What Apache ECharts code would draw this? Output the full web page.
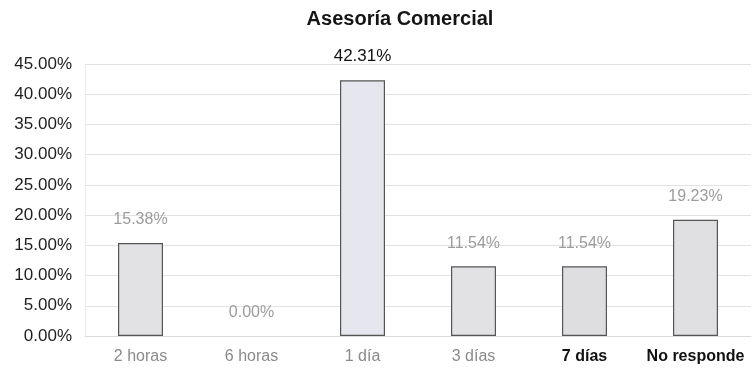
<!DOCTYPE html>
<html>
<head>
<meta charset="utf-8">
<script src="https://cdn.jsdelivr.net/npm/echarts@6/dist/echarts.min.js"></script>
<style>
  html, body { margin: 0; padding: 0; background: #fff; }
  #chart { width: 754px; height: 371px; }
</style>
</head>
<body>
<div id="chart"></div>
<script>
// Tiempo de respuesta de la asesoría comercial (porcentaje de respuestas)
const categories = ['2 horas', '6 horas', '1 día', '3 días', '7 días', 'No responde'];
const percentages = [15.38, 0.00, 42.31, 11.54, 11.54, 19.23];
const yTicks = [0, 5, 10, 15, 20, 25, 30, 35, 40, 45];

// Some category and value labels are printed darker/bolder than others
const darkCategory = [false, false, false, false, true, true];
const darkValue = [false, false, true, false, false, false];
const barFills = ['#e2e2e4', '#e2e2e4', '#e6e6ee', '#e2e2e4', '#dedee0', '#e0e0e2'];

const ARIAL = '"Liberation Sans", Arial, sans-serif';

const chart = echarts.init(document.getElementById('chart'));

chart.setOption({
  animation: false,
  backgroundColor: '#ffffff',
  title: {
    text: 'Asesoría Comercial',
    left: 395,
    textAlign: 'center',
    top: 4,
    textStyle: {
      fontFamily: ARIAL,
      fontSize: 20,
      fontWeight: 'bold',
      color: '#151515'
    }
  },
  grid: { left: 85, right: 3, top: 64, bottom: 35, containLabel: false },
  xAxis: {
    type: 'category',
    data: categories.map((c, i) => ({
      value: c,
      textStyle: darkCategory[i]
        ? { color: '#111', fontWeight: 'bold' }
        : { color: '#8a8a8a', fontWeight: 'normal' }
    })),
    axisLine: { show: true, lineStyle: { color: '#dadada' } },
    axisTick: { show: false },
    axisLabel: {
      interval: 0,
      fontFamily: ARIAL,
      fontSize: 16,
      margin: 13
    }
  },
  yAxis: {
    type: 'value',
    min: yTicks[0],
    max: yTicks[yTicks.length - 1],
    interval: 5,
    axisLine: { show: true, lineStyle: { color: '#ededed' } },
    axisTick: { show: false },
    splitLine: { lineStyle: { color: '#e2e2e2', width: 1 } },
    axisLabel: {
      fontFamily: ARIAL,
      fontSize: 17,
      color: '#1e1e1e',
      margin: 13,
      formatter: v => v.toFixed(2) + '%'
    }
  },
  series: [{
    type: 'bar',
    barWidth: 45,
    data: percentages.map((v, i) => ({
      value: v,
      itemStyle: { color: barFills[i], borderWidth: v === 0 ? 0 : 1.2 },
      label: darkValue[i]
        ? { color: '#111', fontSize: 17 }
        : { color: '#9c9c9c', fontSize: 16 }
    })),
    itemStyle: { borderColor: '#555' },
    label: {
      show: true,
      position: 'top',
      distance: 15,
      fontFamily: ARIAL,
      formatter: p => p.value.toFixed(2) + '%'
    }
  }]
});
</script>
</body>
</html>
